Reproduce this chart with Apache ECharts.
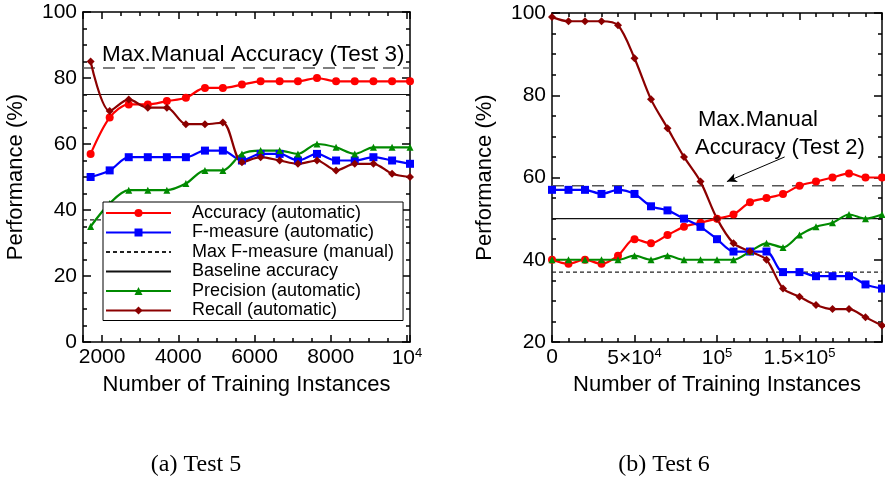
<!DOCTYPE html>
<html>
<head>
<meta charset="utf-8">
<script src="https://cdn.jsdelivr.net/npm/echarts@6/dist/echarts.min.js"></script>
<style>
html, body { margin: 0; padding: 0; background: #fff; }
#chart { width: 885px; height: 483px; }
</style>
</head>
<body>
<div id="chart"></div>
<script>
// (a) Test 5
const test5X = [1700, 2200, 2700, 3200, 3700, 4200, 4700, 5170, 5670, 6160, 6660, 7140, 7640, 8140, 8630, 9120, 9610, 10080];
const test5Accuracy = [57, 68, 72, 72, 73, 74, 77, 77, 78, 79, 79, 79, 80, 79, 79, 79, 79, 79];
const test5FMeasure = [50, 52, 56, 56, 56, 56, 58, 58, 55, 57, 57, 55, 57, 55, 55, 56, 55, 54];
const test5Precision = [35, 42, 46, 46, 46, 48, 52, 52, 57, 58, 58, 57, 60, 59, 57, 59, 59, 59];
const test5Recall = [85, 70, 73.5, 71, 71, 66, 66, 66.5, 54.5, 56, 55, 54, 55, 52, 54, 54, 51, 50];
const test5Range = [1500, 10080];
const test5MaxManualAcc = 83; // Test 3
const test5Baseline = 75;
const test5MaxFManual = 37;

// (b) Test 6
const test6X = [0, 10000, 20000, 30000, 40000, 50000, 60000, 70000, 80000, 90000, 100000,
  110000, 120000, 130000, 140000, 150000, 160000, 170000, 180000, 190000, 200000];
const test6Accuracy = [40, 39, 40, 39, 41, 45, 44, 46, 48, 49, 50, 51, 54, 55, 56, 58, 59, 60, 61, 60, 60];
const test6FMeasure = [57, 57, 57, 56, 57, 56, 53, 52, 50, 48, 45, 42, 42, 42, 37, 37, 36, 36, 36, 34, 33];
const test6Precision = [40, 40, 40, 40, 40, 41, 40, 41, 40, 40, 40, 40, 42, 44, 43, 46, 48, 49, 51, 50, 51];
const test6Recall = [99, 98, 98, 98, 97, 89, 79, 72, 65, 59, 50, 44, 42, 40, 33, 31, 29, 28, 28, 26, 24];
const test6Range = [0, 200000];
const test6MaxManualAcc = 58; // Test 2
const test6Baseline = 50;
const test6MaxFManual = 37;
const test6Arrow = [[141000, 65], [106000, 59]];

const FONT = 'Liberation Sans';
const RED = '#ff0000', BLUE = '#0000ff', GREEN = '#008a00', DARKRED = '#8b0000';
const LEGEND_NAMES = ['Accuracy (automatic)', 'F-measure (automatic)', 'Max F-measure (manual)',
  'Baseline accuracy', 'Precision (automatic)', 'Recall (automatic)'];
const PLAIN_LINES = ['Max F-measure (manual)', 'Baseline accuracy'];

const pairs = (xs, ys) => xs.map((x, i) => [x, ys[i]]);

function curve(name, xs, ys, color, symbol, size, xi, yi) {
  return {
    name, type: 'line', xAxisIndex: xi, yAxisIndex: yi,
    data: pairs(xs, ys), smooth: 0.3,
    symbol, symbolSize: size, showSymbol: true,
    lineStyle: { color, width: 2.2 }, itemStyle: { color }, z: 3
  };
}

function refLine(name, range, v, color, dash, width, xi, yi) {
  return {
    name, type: 'line', xAxisIndex: xi, yAxisIndex: yi,
    data: [[range[0], v], [range[1], v]], symbol: 'none',
    lineStyle: { color, width, type: dash }, itemStyle: { color }, z: 2
  };
}

const lineStyle = { color: '#000', width: 1.5 };
const labelStyle = { color: '#000', fontFamily: FONT, fontSize: 21, margin: 5,
  rich: { sup: { fontSize: 13, verticalAlign: 'bottom', padding: [0, 0, 10, 0], fontFamily: FONT, color: '#000' } } };
const nameStyle = { color: '#000', fontFamily: FONT, fontSize: 22 };

function test5Label(v) {
  if (v < 2000 || v > 10000 || v % 2000 !== 0) return '';
  return v === 10000 ? '10{sup|4}' : String(v);
}
function test6Label(v) {
  return ({ 0: '0', 50000: '5×10{sup|4}', 100000: '10{sup|5}', 150000: '1.5×10{sup|5}' })[v] || '';
}

const xAxes = [
  // left chart, bottom: minor ticks + labels + name
  { gridIndex: 0, type: 'value', position: 'bottom', min: test5Range[0], max: test5Range[1], interval: 500,
    axisLine: { onZero: false, lineStyle }, axisTick: { inside: true, length: 4, lineStyle },
    axisLabel: Object.assign({ formatter: test5Label }, labelStyle), splitLine: { show: false },
    name: 'Number of Training Instances', nameLocation: 'middle', nameGap: 31, nameTextStyle: nameStyle },
  // left chart, bottom: major ticks
  { gridIndex: 0, type: 'value', position: 'bottom', min: test5Range[0], max: test5Range[1], splitNumber: 4,
    axisLine: { show: false, onZero: false }, axisTick: { inside: true, length: 7, lineStyle },
    axisLabel: { show: false }, splitLine: { show: false } },
  // left chart, top mirror
  { gridIndex: 0, type: 'value', position: 'top', min: test5Range[0], max: test5Range[1], interval: 500,
    axisLine: { onZero: false, lineStyle }, axisTick: { inside: true, length: 4, lineStyle },
    axisLabel: { show: false }, splitLine: { show: false } },
  { gridIndex: 0, type: 'value', position: 'top', min: test5Range[0], max: test5Range[1], splitNumber: 4,
    axisLine: { show: false, onZero: false }, axisTick: { inside: true, length: 7, lineStyle },
    axisLabel: { show: false }, splitLine: { show: false } },
  // right chart
  { gridIndex: 1, type: 'value', position: 'bottom', min: test6Range[0], max: test6Range[1], interval: 50000,
    axisLine: { onZero: false, lineStyle }, axisTick: { inside: true, length: 7, lineStyle },
    minorTick: { show: true, splitNumber: 5, length: 4, lineStyle },
    axisLabel: Object.assign({ formatter: test6Label }, labelStyle), splitLine: { show: false },
    name: 'Number of Training Instances', nameLocation: 'middle', nameGap: 31, nameTextStyle: nameStyle },
  { gridIndex: 1, type: 'value', position: 'top', min: test6Range[0], max: test6Range[1], interval: 50000,
    axisLine: { onZero: false, lineStyle }, axisTick: { inside: true, length: 7, lineStyle },
    minorTick: { show: true, splitNumber: 5, length: 4, lineStyle },
    axisLabel: { show: false }, splitLine: { show: false } }
];

function yPair(grid, min) {
  const base = { gridIndex: grid, type: 'value', min, max: 100, interval: 20,
    axisLine: { onZero: false, lineStyle }, axisTick: { inside: true, length: 8, lineStyle },
    minorTick: { show: true, splitNumber: 4, length: 4, lineStyle }, splitLine: { show: false } };
  return [
    Object.assign({}, base, { position: 'left', axisLabel: Object.assign({}, labelStyle, { margin: 6 }),
      name: 'Performance (%)', nameLocation: 'middle', nameGap: 56, nameTextStyle: nameStyle }),
    Object.assign({}, base, { position: 'right', axisLabel: { show: false } })
  ];
}
const yAxes = yPair(0, 0).concat(yPair(1, 20));

const LONG_DASH = [12, 8], SHORT_DASH = [4, 3];

const series = [
  refLine('Max F-measure (manual)', test5Range, test5MaxFManual, '#222', SHORT_DASH, 1.2, 0, 0),
  refLine('Baseline accuracy', test5Range, test5Baseline, '#111', 'solid', 1.2, 0, 0),
  refLine('Max manual accuracy', test5Range, test5MaxManualAcc, '#555', LONG_DASH, 1.5, 0, 0),
  curve('Accuracy (automatic)', test5X, test5Accuracy, RED, 'circle', 8, 0, 0),
  curve('F-measure (automatic)', test5X, test5FMeasure, BLUE, 'rect', 8, 0, 0),
  curve('Precision (automatic)', test5X, test5Precision, GREEN, 'triangle', 7, 0, 0),
  curve('Recall (automatic)', test5X, test5Recall, DARKRED, 'diamond', 8, 0, 0),

  refLine('Max F-measure (manual)', test6Range, test6MaxFManual, '#222', SHORT_DASH, 1.2, 4, 2),
  refLine('Baseline accuracy', test6Range, test6Baseline, '#111', 'solid', 1.2, 4, 2),
  Object.assign(refLine('Max manual accuracy', test6Range, test6MaxManualAcc, '#555', LONG_DASH, 1.5, 4, 2), {
    markLine: {
      silent: true, symbol: ['none', 'arrow'], symbolSize: [7, 10],
      label: { show: false }, lineStyle: { type: 'solid', color: '#000', width: 1 },
      data: [[{ coord: test6Arrow[0] }, { coord: test6Arrow[1] }]]
    }
  }),
  curve('Accuracy (automatic)', test6X, test6Accuracy, RED, 'circle', 8, 4, 2),
  curve('F-measure (automatic)', test6X, test6FMeasure, BLUE, 'rect', 8, 4, 2),
  curve('Precision (automatic)', test6X, test6Precision, GREEN, 'triangle', 7, 4, 2),
  curve('Recall (automatic)', test6X, test6Recall, DARKRED, 'diamond', 8, 4, 2)
];

function note(text, x, y, size, family, align) {
  return { type: 'text', x, y, z: 10,
    style: { text, fontSize: size, fontFamily: family || FONT, fill: '#000',
      align: align || 'left', verticalAlign: 'middle' } };
}

const chart = echarts.init(document.getElementById('chart'), null, { renderer: 'canvas' });
chart.setOption({
  animation: false,
  backgroundColor: '#fff',
  grid: [
    { left: 83, top: 12, width: 327, height: 330 },
    { left: 552, top: 13, width: 330, height: 329 }
  ],
  xAxis: xAxes,
  yAxis: yAxes,
  legend: {
    data: LEGEND_NAMES.map(name => PLAIN_LINES.includes(name) ? { name, itemStyle: { opacity: 0 } } : name),
    orient: 'vertical', left: 103, top: 202,
    itemWidth: 65, itemHeight: 10, itemGap: 1.5, selectedMode: false,
    padding: [2, 9, 1, 2], backgroundColor: '#fff', borderColor: '#000', borderWidth: 1,
    textStyle: { fontFamily: FONT, fontSize: 18, color: '#000', padding: [0, 0, 0, 16] }
  },
  graphic: [
    note('Max.Manual Accuracy (Test 3)', 102, 55, 22.5),
    note('Max.Manual', 698, 120, 22),
    note('Accuracy (Test 2)', 695, 148, 22),
    note('(a) Test 5', 196, 465, 24, 'Liberation Serif', 'center'),
    note('(b) Test 6', 664, 465, 24, 'Liberation Serif', 'center')
  ],
  series
});
</script>
</body>
</html>
